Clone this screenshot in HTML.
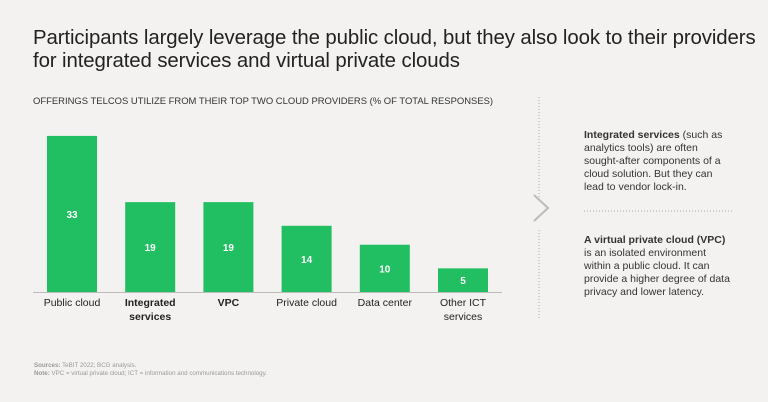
<!DOCTYPE html>
<html><head><meta charset="utf-8"><style>
body{margin:0;width:768px;height:402px;background:#f3f2f0;font-family:"Liberation Sans",sans-serif;color:#212121;position:relative;overflow:hidden}
.abs{position:absolute}
.title{left:33px;top:27px;font-size:20.4px;line-height:23px;color:#222;letter-spacing:-0.1px;white-space:nowrap}
.sub{left:33px;top:96px;font-size:9.45px;letter-spacing:0px;color:#333;white-space:nowrap}
.side{left:584px;font-size:10.5px;line-height:13px;color:#333;width:150px}
.src{left:34px;font-size:6.2px;color:#999}
</style></head><body>
<div class="abs title">Participants largely leverage the public cloud, but they also look to their providers<br>for integrated services and virtual private clouds</div>
<div class="abs sub">OFFERINGS TELCOS UTILIZE FROM THEIR TOP TWO CLOUD PROVIDERS (% OF TOTAL RESPONSES)</div>
<svg class="abs" style="left:0;top:0" width="768" height="402" id="chart">
<line x1="539" y1="97" x2="539" y2="200" stroke="#aaa" stroke-dasharray="1,2"/>
<line x1="539" y1="230" x2="539" y2="318" stroke="#aaa" stroke-dasharray="1,2"/>
<polyline points="534,195 548,208 534,221" fill="none" stroke="#bbb" stroke-width="2"/>
<line x1="584" y1="211" x2="734" y2="211" stroke="#aaa" stroke-dasharray="1,2"/>
</svg>
<div class="abs side" style="top:129px"><b>Integrated services</b> (such as<br>analytics tools) are often<br>sought-after components of a<br>cloud solution. But they can<br>lead to vendor lock-in.</div>
<div class="abs side" style="top:234px"><b>A virtual private cloud (VPC)</b><br>is an isolated environment<br>within a public cloud. It can<br>provide a higher degree of data<br>privacy and lower latency.</div>
<div class="abs src" style="top:362px"><b>Sources:</b> TeBIT 2022; BCG analysis.</div>
<div class="abs src" style="top:370px"><b>Note:</b> VPC = virtual private cloud; ICT = information and communications technology.</div>
<script>
const categories=["Public cloud","Integrated\nservices","VPC","Private cloud","Data center","Other ICT\nservices"];
const values=[33,19,19,14,10,5];
const boldCats=[false,true,true,false,false,false];
const svg=document.getElementById('chart');
const NS='http://www.w3.org/2000/svg';
const base=292,scale=4.73,x0=47,step=78.2,bw=50;
const y=v=>base-v*scale;
const xs=i=>x0+i*step;
values.forEach((v,i)=>{
 const r=document.createElementNS(NS,'rect');
 r.setAttribute('x',xs(i));r.setAttribute('y',y(v));r.setAttribute('width',bw);r.setAttribute('height',base-y(v));r.setAttribute('fill','#21bf61');
 
 
 svg.appendChild(r);
 const t=document.createElementNS(NS,'text');
 t.setAttribute('x',xs(i)+bw/2);t.setAttribute('y',(y(v)+base)/2+4);t.setAttribute('text-anchor','middle');t.setAttribute('fill','#fff');t.setAttribute('font-size','10');t.setAttribute('font-weight','bold');t.setAttribute('font-family','Liberation Sans');
 t.textContent=v;
 
 
 svg.appendChild(t);
 categories[i].split('\n').forEach((ln,j)=>{
  const c=document.createElementNS(NS,'text');
  c.setAttribute('x',xs(i)+bw/2);c.setAttribute('y',306+j*14);c.setAttribute('text-anchor','middle');c.setAttribute('fill','#222');c.setAttribute('font-size','10.5');c.setAttribute('font-family','Liberation Sans');
  if(boldCats[i])c.setAttribute('font-weight','bold');
  c.textContent=ln;
  
  
  svg.appendChild(c);
 });
});
const ax=document.createElementNS(NS,'line');
ax.setAttribute('x1',33);ax.setAttribute('x2',502);ax.setAttribute('y1',base+0.5);ax.setAttribute('y2',base+0.5);ax.setAttribute('stroke','#bbb');


svg.appendChild(ax);
</script>
</body></html>
